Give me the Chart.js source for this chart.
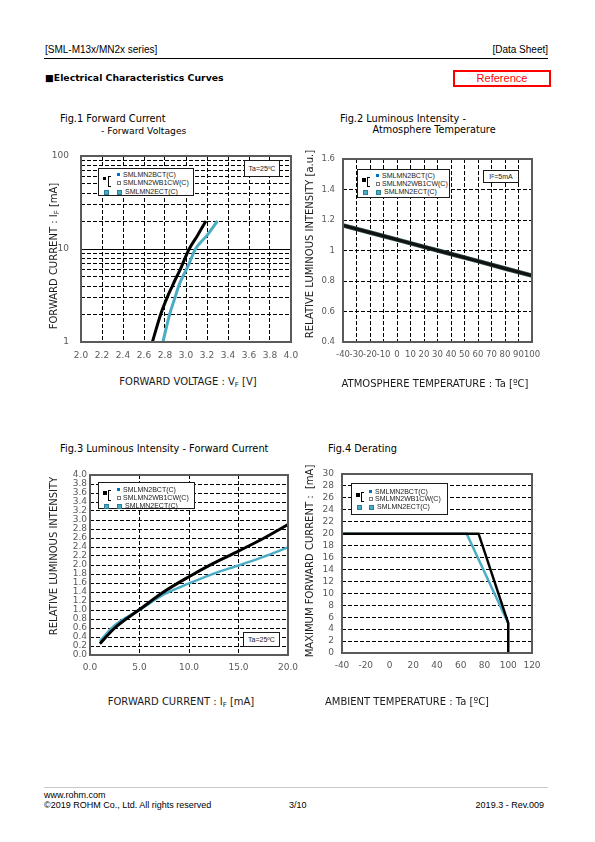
<!DOCTYPE html>
<html><head><meta charset="utf-8">
<script src="https://cdn.jsdelivr.net/npm/chart.js@4.4.1/dist/chart.umd.min.js"></script>
<style>
html,body{margin:0;padding:0;background:#fff;}
#page{position:relative;width:595px;height:842px;overflow:hidden;font-family:"DejaVu Sans",sans-serif;color:#000;}
.t{position:absolute;white-space:nowrap;line-height:1;}
canvas{position:absolute;}
.ax{position:absolute;white-space:nowrap;line-height:1;font-size:10px;color:#1a1a1a;transform:translate(-50%,-50%);}
.axr{transform:translate(-50%,-50%) rotate(-90deg);}
sub{font-size:70%;vertical-align:-2px;line-height:0;}
.leg{position:absolute;border:1px solid #1a1a1a;background:#fff;font-family:"Liberation Sans",Arial,sans-serif;font-size:7px;color:#1a1a1a;}
.leg div{position:absolute;line-height:1;white-space:nowrap;}
.note{position:absolute;border:1px solid #1a1a1a;background:#fff;font-family:"Liberation Sans",Arial,sans-serif;font-size:7px;color:#1a1a1a;display:flex;align-items:center;justify-content:center;line-height:1;}
.hdr{font-family:"Liberation Sans",Arial,sans-serif;}
</style></head>
<body><div id="page">
<div class="t hdr" style="left:45px;top:45px;font-size:10px;">[SML-M13x/MN2x series]</div>
<div class="t hdr" style="right:47px;top:45px;font-size:10px;">[Data Sheet]</div>
<div style="position:absolute;left:44px;top:58px;width:504px;height:1px;background:#000;"></div>
<div class="t" style="left:45px;top:72.5px;font-size:9.3px;font-weight:bold;">■Electrical Characteristics Curves</div>
<div class="t hdr" style="left:453px;top:70px;width:94px;height:13px;border:2px solid #f00;color:#f00;font-size:11px;text-align:center;line-height:13px;">Reference</div>

<div class="t" style="left:60px;top:113.5px;font-size:9.8px;">Fig.1 Forward Current</div>
<div class="t" style="left:101px;top:125.5px;font-size:9.2px;">- Forward Voltages</div>
<div class="t" style="left:340px;top:114px;font-size:9.8px;">Fig.2 Luminous Intensity -</div>
<div class="t" style="left:372.5px;top:125px;font-size:9.7px;">Atmosphere Temperature</div>
<div class="t" style="left:60px;top:443.5px;font-size:9.8px;">Fig.3 Luminous Intensity - Forward Current</div>
<div class="t" style="left:328px;top:444px;font-size:9.8px;">Fig.4 Derating</div>

<canvas id="c1"></canvas><canvas id="c2"></canvas><canvas id="c3"></canvas><canvas id="c4"></canvas>

<div class="ax" style="left:188px;top:382px;">FORWARD VOLTAGE : V<sub>F</sub> [V]</div>
<div class="ax axr" style="left:54px;top:255.5px;">FORWARD CURRENT : I<sub>F</sub> [mA]</div>
<div class="ax" style="left:435px;top:384px;">ATMOSPHERE TEMPERATURE : Ta [ºC]</div>
<div class="ax axr" style="left:310px;top:244px;">RELATIVE LUMINOUS INTENSITY [a.u.]</div>
<div class="ax" style="left:181px;top:701.5px;">FORWARD CURRENT : I<sub>F</sub> [mA]</div>
<div class="ax axr" style="left:53.5px;top:555.5px;">RELATIVE LUMINOUS INTENSITY</div>
<div class="ax" style="left:407px;top:701.5px;">AMBIENT TEMPERATURE : Ta [ºC]</div>
<div class="ax axr" style="left:310px;top:560.5px;">MAXIMUM FORWARD CURRENT :&nbsp; [mA]</div>

<div class="note" style="left:244px;top:160px;width:34px;height:15px;">Ta=25ºC</div>
<div class="note" style="left:483px;top:170px;width:34px;height:11px;">I<sub>F</sub>=5mA</div>
<div class="note" style="left:243px;top:632px;width:35px;height:13px;">Ta=25ºC</div>

<div id="legs"></div>
<div style="position:absolute;left:44px;top:787px;width:504px;height:1px;background:#c8c8c8;"></div>
<div class="t hdr" style="left:44px;top:791px;font-size:9px;">www.rohm.com</div>
<div class="t hdr" style="left:44px;top:801px;font-size:9px;">©2019 ROHM Co., Ltd. All rights reserved</div>
<div class="t hdr" style="left:289px;top:801px;font-size:9px;">3/10</div>
<div class="t hdr" style="right:51px;top:801px;font-size:9px;">2019.3 - Rev.009</div>
</div>
<script>
// ---------- Fig.1 Forward Current - Forward Voltage ----------
const fig1CurrentBCT = [1, 2, 3, 4, 5, 6, 7, 10, 14, 20];
const fig1VoltBCT    = [2.68, 2.76, 2.82, 2.87, 2.91, 2.945, 2.97, 3.03, 3.11, 3.19];
const fig1CurrentECT = [1, 2, 3, 4, 5, 6, 7, 10, 14, 20];
const fig1VoltECT    = [2.78, 2.845, 2.895, 2.93, 2.967, 3.003, 3.03, 3.09, 3.20, 3.30];
const fig1XTicks = [2.0, 2.2, 2.4, 2.6, 2.8, 3.0, 3.2, 3.4, 3.6, 3.8, 4.0];
const fig1YTicks = [1, 2, 3, 4, 5, 6, 7, 8, 9, 10, 20, 30, 40, 50, 60, 70, 80, 90, 100];
const fig1YLabels = [1, 10, 100];

// ---------- Fig.2 Luminous Intensity - Atmosphere Temperature ----------
const fig2TempC = [-40, -20, 0, 20, 40, 60, 80, 100];
const fig2BCT   = [1.165, 1.118, 1.071, 1.024, 0.977, 0.930, 0.882, 0.835];
const fig2ECT   = [1.165, 1.118, 1.071, 1.024, 0.977, 0.930, 0.882, 0.835];
const fig2XTicks = [-40, -30, -20, -10, 0, 10, 20, 30, 40, 50, 60, 70, 80, 90, 100];
const fig2YTicks = [0.4, 0.6, 0.8, 1.0, 1.2, 1.4, 1.6];

// ---------- Fig.3 Luminous Intensity - Forward Current ----------
const fig3CurrentMA = [1, 2.5, 5, 7.5, 10, 12.5, 15, 17.5, 20];
const fig3BCT = [0.25, 0.60, 1.01, 1.41, 1.74, 2.04, 2.31, 2.59, 2.90];
const fig3ECT = [0.31, 0.66, 1.00, 1.35, 1.59, 1.81, 1.99, 2.18, 2.39];
const fig3XTicks = [0, 5, 10, 15, 20];
const fig3YTicks = [0, 0.2, 0.4, 0.6, 0.8, 1.0, 1.2, 1.4, 1.6, 1.8, 2.0, 2.2, 2.4, 2.6, 2.8, 3.0, 3.2, 3.4, 3.6, 3.8, 4.0];

// ---------- Fig.4 Derating ----------
const fig4TempBCT = [-40, 75, 100, 100];
const fig4CurBCT  = [20, 20, 5, 0];
const fig4TempECT = [-40, 65, 100];
const fig4CurECT  = [20, 20, 5];
const fig4XTicks = [-40, -20, 0, 20, 40, 60, 80, 100, 120];
const fig4YTicks = [0, 2, 4, 6, 8, 10, 12, 14, 16, 18, 20, 22, 24, 26, 28, 30];

const seriesNames = ['SMLMN2BCT(C)', 'SMLMN2WB1CW(C)', 'SMLMN2ECT(C)'];
const BLACK = '#000000', CYAN = '#4BACC6', TICK = '#595959';

Chart.defaults.font.family = 'DejaVu Sans';

const framePlugin = {
  id: 'frame',
  afterDatasetsDraw(chart) {
    const {ctx, chartArea: a} = chart;
    ctx.save();
    ctx.strokeStyle = '#5a5a5a';
    ctx.lineWidth = 2;
    ctx.strokeRect(a.left, a.top, a.right - a.left, a.bottom - a.top);
    ctx.restore();
  }
};

function pts(xs, ys) { return xs.map((x, i) => ({x: x, y: ys[i]})); }

function makeChart(id, p, datasets, xs, ys) {
  const cv = document.getElementById(id);
  const left = p.l - p.yw - p.pl, top = p.t - p.pt;
  const w = (p.r - p.l) + p.yw + p.pl + p.pr;
  const h = (p.b - p.t) + p.xh + p.pt + p.pb;
  cv.width = w; cv.height = h;
  cv.style.left = left + 'px'; cv.style.top = top + 'px';
  cv.style.width = w + 'px'; cv.style.height = h + 'px';
  const tickFont = {family: 'DejaVu Sans', size: p.fs || 9};
  return new Chart(cv, {
    type: 'line',
    data: {datasets: datasets},
    plugins: [framePlugin],
    options: {
      responsive: false, animation: false, events: [], devicePixelRatio: 1,
      layout: {padding: {left: p.pl, right: p.pr, top: p.pt, bottom: p.pb}},
      plugins: {legend: {display: false}, tooltip: {enabled: false}},
      elements: {point: {radius: 0}},
      scales: {
        x: {
          type: 'linear', min: xs.min, max: xs.max,
          afterBuildTicks: s => { s.ticks = xs.ticks.map(v => ({value: v})); },
          afterFit: s => { s.height = p.xh; },
          ticks: {autoSkip: false, maxRotation: 0, minRotation: 0, padding: xs.pad, color: TICK, font: tickFont, callback: xs.cb},
          grid: {display: xs.grid !== false, color: '#000', lineWidth: 1, drawTicks: false},
          border: {display: false, dash: [4, 2]}
        },
        y: {
          type: ys.type || 'linear', min: ys.min, max: ys.max,
          afterBuildTicks: s => { s.ticks = ys.ticks.map(v => ({value: v})); },
          afterFit: s => { s.width = p.yw; },
          ticks: {autoSkip: false, padding: ys.pad, color: TICK, font: tickFont, callback: ys.cb},
          grid: {color: '#000', lineWidth: 1, drawTicks: false},
          border: {display: false, dash: ys.dash || [4, 2]}
        }
      }
    }
  });
}

function lineDs(data, color, width, smooth) {
  return {data: data, borderColor: color, borderWidth: width, pointRadius: 0, fill: false,
          cubicInterpolationMode: smooth ? 'monotone' : 'default', tension: 0, clip: 2};
}

// Fig.1
makeChart('c1', {l: 81, t: 156, r: 291, b: 342, yw: 40, xh: 24, pl: 2, pt: 24, pr: 24, pb: 2},
  [lineDs(pts(fig1VoltBCT, fig1CurrentBCT), BLACK, 3, true),
   lineDs(pts(fig1VoltECT, fig1CurrentECT), CYAN, 3, true)],
  {min: 2, max: 4, ticks: fig1XTicks, pad: 8, cb: v => v.toFixed(1)},
  {type: 'logarithmic', min: 1, max: 100, ticks: fig1YTicks, pad: 12,
   cb: v => fig1YLabels.includes(v) ? String(v) : '',
   dash: c => (c.tick && c.tick.value === 10) ? [] : [4, 2]});

// Fig.2
makeChart('c2', {l: 343, t: 159, r: 532, b: 342, yw: 30, xh: 24, pl: 6, pt: 22, pr: 24, pb: 2, fs: 8.5},
  [lineDs(pts(fig2TempC, fig2BCT), '#111', 3, false),
   lineDs(pts(fig2TempC, fig2ECT), '#2f4f4f', 4.5, false)],
  {min: -40, max: 100, ticks: fig2XTicks, pad: 8, cb: v => String(v)},
  {min: 0.4, max: 1.6, ticks: fig2YTicks, pad: 8, cb: v => String(Math.round(v * 10) / 10)});

// Fig.3
makeChart('c3', {l: 90, t: 475, r: 288, b: 655, yw: 30, xh: 22, pl: 4, pt: 22, pr: 24, pb: 2},
  [lineDs(pts(fig3CurrentMA, fig3BCT), BLACK, 3, true),
   lineDs(pts(fig3CurrentMA, fig3ECT), CYAN, 2.5, true)],
  {min: 0, max: 20, ticks: fig3XTicks, pad: 7, cb: v => v.toFixed(1)},
  {min: 0, max: 4, ticks: fig3YTicks, pad: 3, cb: v => v.toFixed(1)});

// Fig.4
makeChart('c4', {l: 342, t: 474, r: 532, b: 653, yw: 30, xh: 22, pl: 6, pt: 22, pr: 24, pb: 2},
  [lineDs(pts(fig4TempBCT, fig4CurBCT), BLACK, 2.5, false),
   lineDs(pts(fig4TempECT, fig4CurECT), CYAN, 2.5, false)],
  {min: -40, max: 120, ticks: fig4XTicks, pad: 7, cb: v => String(v), grid: false},
  {min: 0, max: 30, ticks: fig4YTicks, pad: 8, cb: v => String(v)});

// legends (HTML boxes)
function legend(x, y, w, h, rows, tx, big) {
  const el = document.createElement('div');
  el.className = 'leg';
  el.style.cssText = `left:${x}px;top:${y}px;width:${w}px;height:${h}px;`;
  const bs = big ? 4 : 3;
  const add = (css, html) => { const d = document.createElement('div'); d.style.cssText = css; if (html) d.innerHTML = html; el.appendChild(d); };
  add(`left:4px;top:${rows[0] + 2}px;width:${bs}px;height:${bs}px;background:${BLACK};`);
  add(`left:9px;top:${rows[0] + 1}px;width:2px;height:${rows[1] - rows[0] + 1}px;border:1px solid #000;border-right:none;`);
  add(`left:${tx - 6}px;top:${rows[0] - 1.5}px;width:3px;height:3px;background:#0070C0;`);
  add(`left:${tx - 6.5}px;top:${rows[1] - 1.5}px;width:2px;height:2px;border:1px solid #777;background:#fff;`);
  add(`left:4.5px;top:${rows[2] - 1.5}px;width:3px;height:3px;background:${CYAN};border:0.5px solid #2a7f92;`);
  add(`left:${tx - 6}px;top:${rows[2] - 1.5}px;width:3px;height:3px;background:${CYAN};border:0.5px solid #2a7f92;`);
  add(`left:${tx}px;top:${rows[0] - 3.5}px;`, seriesNames[0]);
  add(`left:${tx}px;top:${rows[1] - 3.5}px;`, seriesNames[1]);
  add(`left:${tx + 2}px;top:${rows[2] - 3.5}px;`, seriesNames[2]);
  document.getElementById('legs').appendChild(el);
}
legend(98, 168, 94, 26, [5.5, 13.8, 22.5], 24);
legend(357, 169, 91, 27, [5.7, 13.4, 21.7], 24, true);
legend(98, 482, 95, 25, [6, 14.3, 22], 24, true);
legend(351, 483, 95, 30, [7, 14.3, 22.7], 23, true);
</script>
</body></html>
